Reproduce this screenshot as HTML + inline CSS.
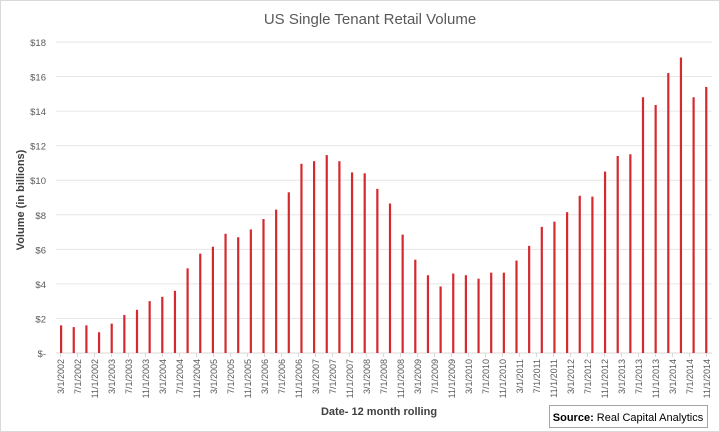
<!DOCTYPE html><html><head><style>body{margin:0;background:#fff}svg{display:block;font-family:"Liberation Sans",sans-serif}</style></head><body>
<svg width="720" height="432" xmlns="http://www.w3.org/2000/svg">
<rect x="0.5" y="0.5" width="719" height="431" fill="#fff" stroke="#d9d9d9"/>
<text x="370" y="24" font-size="15" fill="#595959" text-anchor="middle">US Single Tenant Retail Volume</text>
<g id="g"></g>
<text transform="translate(24,200) rotate(-90)" font-size="11" font-weight="bold" fill="#404040" text-anchor="middle">Volume (in billions)</text>
<text x="379" y="415" font-size="11" font-weight="bold" fill="#404040" text-anchor="middle">Date- 12 month rolling</text>
<rect x="549.5" y="405.5" width="158" height="22" fill="#fff" stroke="#a6a6a6"/>
<text x="628" y="421" font-size="11" fill="#000" text-anchor="middle"><tspan font-weight="bold">Source:</tspan> Real Capital Analytics</text>
</svg>
<script>
const g=document.getElementById('g');let s='';
const y0=353,k=17.28;
for(let i=0;i<=9;i++){const y=y0-i*2*k;s+=`<line x1="56" x2="712" y1="${y}" y2="${y}" stroke="${i?'#e6e6e6':'#d9d9d9'}"/>`;
s+=`<text x="46" y="${y+4}" font-size="9.5" fill="#595959" text-anchor="end">${i?'$'+i*2:'$-'}</text>`;}
const v=[1.6,1.5,1.6,1.2,1.7,2.2,2.5,3.0,3.25,3.6,4.9,5.75,6.15,6.9,6.7,7.15,7.75,8.3,9.3,10.95,11.1,11.45,11.1,10.45,10.4,9.5,8.65,6.85,5.4,4.5,3.85,4.6,4.5,4.3,4.65,4.65,5.35,6.2,7.3,7.6,8.15,9.1,9.05,10.5,11.4,11.5,14.8,14.35,16.2,17.1,14.8,15.4];
v.forEach((d,i)=>{const x=61+i*12.65;s+=`<rect x="${x-1}" y="${y0-d*k}" width="2.2" height="${d*k}" fill="#d42a2f"/>`;});
const m=['3','7','11'];
for(let j=0;j<39;j++){const x=60.5+j*17;const lab=m[j%3]+'/1/'+(2002+Math.floor(j/3));
s+=`<line x1="${x}" x2="${x}" y1="353" y2="357" stroke="#d9d9d9"/>`;
s+=`<text transform="translate(${x+3.5},359) rotate(-90)" font-size="9" fill="#595959" text-anchor="end">${lab}</text>`;}
g.innerHTML=s;
</script>
</body></html>
